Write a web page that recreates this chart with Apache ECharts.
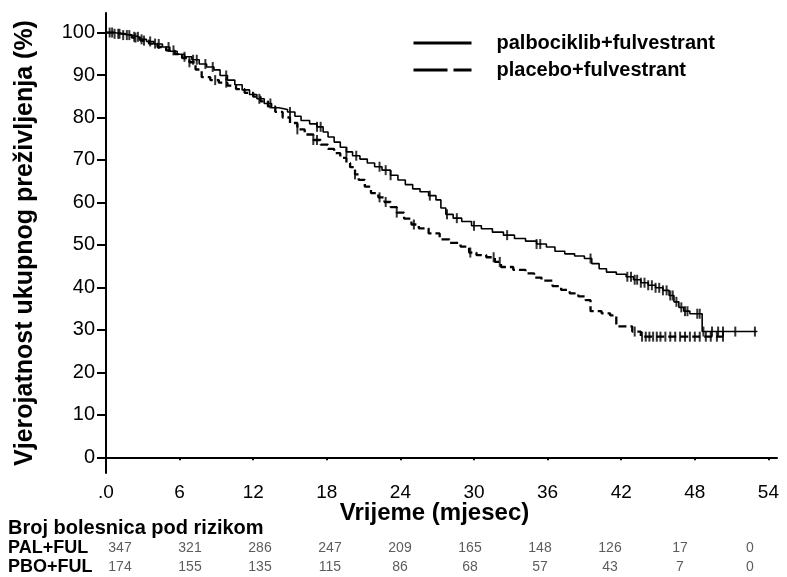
<!DOCTYPE html>
<html>
<head>
<meta charset="utf-8">
<script src="https://cdn.jsdelivr.net/npm/echarts@6/dist/echarts.min.js"></script>
<style>html,body{margin:0;padding:0;background:#fff;}#c{width:787px;height:577px;}</style>
</head>
<body>
<div id="c"></div>
<script>
// ---- data ----
const palName = 'palbociklib+fulvestrant';
const pboName = 'placebo+fulvestrant';
// Kaplan-Meier step points: time (months) and survival (%) after each drop
const palT = [0,0.6,1.3,2.0,2.7,3.3,3.9,4.6,5.2,5.8,6.4,7.0,7.6,8.2,8.8,9.3,9.9,10.5,11.1,11.7,12.3,12.9,13.5,14.1,14.8,15.4,15.9,16.6,17.2,17.7,18.1,18.6,19.1,19.6,20.1,20.7,21.3,21.9,22.5,23.2,23.8,24.4,25.0,25.6,26.3,26.9,27.3,27.7,28.3,29.0,29.8,30.6,31.5,32.4,33.3,34.2,35.1,35.9,36.6,37.4,38.2,39.0,39.6,40.2,40.8,41.6,42.4,43.0,43.6,44.2,44.8,45.4,45.9,46.3,46.7,47.1,47.6,48.6,53.1];
const palS = [100,99.7,99.4,99.0,98.4,97.9,97.3,96.6,95.6,94.9,94.3,93.6,92.6,91.9,91.2,89.9,88.8,87.7,86.5,85.4,84.4,83.3,82.3,81.9,81.3,80.3,79.3,78.5,77.8,76.6,75.4,74.2,73.0,71.9,71.0,70.2,69.3,68.4,67.6,66.4,65.3,64.2,63.2,62.5,61.6,60.6,58.7,57.2,56.3,55.5,54.5,53.8,53.0,52.3,51.5,50.9,50.2,49.5,48.5,47.9,47.4,46.8,45.6,44.4,43.6,43.1,42.5,41.8,41.1,40.5,39.9,39.3,38.1,36.6,35.3,34.4,33.8,29.6,29.6];
const pboT = [0,0.7,1.4,2.1,2.8,3.5,4.2,4.9,5.6,6.2,6.8,7.3,7.8,8.5,9.2,9.9,10.6,11.3,12.0,12.6,13.2,13.8,14.4,15.0,15.6,16.2,16.9,17.5,18.1,18.6,19.1,19.6,19.9,20.3,20.6,21.1,21.6,22.2,22.7,23.2,23.7,24.3,24.9,25.5,26.3,27.2,28.0,28.9,29.6,30.2,31.0,31.7,32.2,33.2,34.2,34.9,35.5,36.4,37.1,37.8,38.5,39.1,39.5,40.4,41.1,41.6,42.9,43.6,50.3];
const pboS = [100,99.7,99.4,98.8,98.1,97.4,96.6,95.8,94.9,94.0,93.0,91.3,89.5,88.8,88.2,87.5,86.7,85.8,84.9,83.8,82.6,81.3,80.0,78.7,77.2,76.0,74.7,73.6,72.6,71.6,70.5,69.3,68.3,66.6,65.3,63.7,62.2,61.2,60.1,58.9,57.6,56.2,54.8,53.9,52.7,51.3,50.5,49.6,48.2,47.6,47.1,46.0,44.8,44.1,43.3,42.3,41.6,40.3,39.4,38.6,37.9,37.0,34.4,33.9,33.4,30.8,29.6,28.4,28.4];
// censoring times (months)
const palCensor = [0.3,0.7,1.0,1.4,1.9,2.3,2.6,2.9,3.6,4.3,5.1,6.4,7.1,7.4,8.1,8.7,9.8,12.5,13.4,15.0,17.2,17.5,19.6,20.4,22.3,22.8,23.2,26.4,27.8,28.6,30.0,32.7,35.1,35.4,39.5,42.5,42.8,43.1,43.3,43.6,43.9,44.2,44.5,44.8,45.1,45.4,45.7,46.0,46.2,46.5,46.9,47.2,47.4,48.2,48.4,48.7,49.4,49.9,50.3,51.3,52.9];
const pboCensor = [0.5,1.1,1.7,2.4,3.1,4.0,5.5,6.8,8.9,9.8,15.6,16.9,17.2,20.3,22.3,22.8,23.7,25.1,29.7,31.6,32.1,43.1,43.7,44.0,44.3,44.6,44.9,45.2,45.6,46.0,46.4,46.8,47.2,47.6,48.0,48.4,48.9,49.3,49.8,50.3];
// axes
const xTicks = [0,6,12,18,24,30,36,42,48,54];
const yTicks = [0,10,20,30,40,50,60,70,80,90,100];
// number at risk
const riskTimes = [0,6,12,18,24,30,36,42,48,54];
const riskRows = ['PAL+FUL','PBO+FUL'];
const palRisk = [347,321,286,247,209,165,148,126,17,0];
const pboRisk = [174,155,135,115,86,68,57,43,7,0];
const riskTitle = 'Broj bolesnica pod rizikom';
const xTitle = 'Vrijeme (mjesec)';
const yTitle = 'Vjerojatnost ukupnog preživljenja (%)';

// ---- build ----
const FONT = '"Liberation Sans", Arial, sans-serif';
function steps(T, S) { return T.map((t, i) => [t, S[i]]); }
function survAt(T, S, t) { let v = S[0]; for (let i = 0; i < T.length; i++) { if (T[i] <= t) v = S[i]; } return v; }
function censor(T, S, C) { return C.map(t => [t, survAt(T, S, t)]); }
const riskData = [];
palRisk.forEach((v, i) => riskData.push([riskTimes[i], riskRows[0], v]));
pboRisk.forEach((v, i) => riskData.push([riskTimes[i], riskRows[1], v]));

const chart = echarts.init(document.getElementById('c'), null, { renderer: 'canvas' });
const censorSym = { symbol: 'rect', symbolSize: [2, 10] };
chart.setOption({
  animation: false,
  backgroundColor: '#fff',
  textStyle: { fontFamily: FONT, color: '#000' },
  grid: [
    { left: 106, right: 10, top: 13, bottom: 104, containLabel: false },
    { left: 120, right: 37, top: 538, height: 40, containLabel: false }
  ],
  legend: {
    left: 407, top: 28, orient: 'vertical', itemWidth: 58, itemHeight: 14, itemGap: 7,
    textStyle: { fontFamily: FONT, fontSize: 20, fontWeight: 'bold', color: '#000', padding: [0, 0, 0, 20] },
    data: [
      { name: palName, itemStyle: { opacity: 0 }, lineStyle: { width: 3, type: 'solid', color: '#000' } },
      { name: pboName, itemStyle: { opacity: 0 }, lineStyle: { width: 3, type: [34, 6], color: '#000' } }
    ]
  },
  xAxis: [
    {
      gridIndex: 0, type: 'value', min: 0, max: 54.7,
      name: xTitle, nameLocation: 'middle', nameGap: 28, nameMoveOverlap: false,
      nameTextStyle: { fontFamily: FONT, fontSize: 24, fontWeight: 'bold', color: '#000', padding: [0, 14, 0, 0] },
      axisLine: { show: true, lineStyle: { color: '#000', width: 2 } },
      axisTick: { show: true, customValues: xTicks, length: 3, lineStyle: { color: '#000', width: 2 } },
      axisLabel: { customValues: xTicks, margin: 10, fontSize: 19, color: '#000', fontFamily: FONT,
        formatter: v => (v === 0 ? '.0' : String(v)) },
      splitLine: { show: false }
    },
    { gridIndex: 1, type: 'value', min: 0, max: 54, show: false }
  ],
  yAxis: [
    {
      gridIndex: 0, type: 'value', min: -3.7, max: 104.6,
      name: yTitle, nameLocation: 'middle', nameRotate: 90, nameGap: 68,
      nameTextStyle: { fontFamily: FONT, fontSize: 25, fontWeight: 'bold', color: '#000' },
      axisLine: { show: true, lineStyle: { color: '#000', width: 2 } },
      axisTick: { show: true, customValues: yTicks, length: 9, lineStyle: { color: '#000', width: 2 } },
      axisLabel: { customValues: yTicks, margin: 11, fontSize: 20, color: '#000', fontFamily: FONT },
      splitLine: { show: false }
    },
    { gridIndex: 1, type: 'category', data: riskRows, inverse: true, show: false }
  ],
  series: [
    { name: palName, type: 'line', step: 'end', symbol: 'none', data: steps(palT, palS),
      lineStyle: { color: '#000', width: 1.6 }, itemStyle: { color: '#000' }, z: 3 },
    { name: pboName, type: 'line', step: 'end', symbol: 'none', data: steps(pboT, pboS),
      lineStyle: { color: '#000', width: 2.3, type: [8, 4] }, itemStyle: { color: '#000' }, z: 3 },
    Object.assign({ type: 'scatter', data: censor(palT, palS, palCensor), itemStyle: { color: '#000' }, z: 4 }, censorSym),
    Object.assign({ type: 'scatter', data: censor(pboT, pboS, pboCensor), itemStyle: { color: '#000' }, z: 4 }, censorSym),
    { type: 'scatter', xAxisIndex: 1, yAxisIndex: 1, symbolSize: 0, data: riskData,
      label: { show: true, position: 'inside', formatter: p => String(p.value[2]),
        fontFamily: FONT, fontSize: 14, color: '#333' } }
  ],
  graphic: [
    { type: 'text', left: 8, top: 518, style: { text: riskTitle, font: 'bold 20px ' + FONT, fill: '#000' } },
    { type: 'text', left: 8, top: 539, style: { text: riskRows[0], font: 'bold 18px ' + FONT, fill: '#000' } },
    { type: 'text', left: 8, top: 558, style: { text: riskRows[1], font: 'bold 18px ' + FONT, fill: '#000' } }
  ]
});
</script>
</body>
</html>
